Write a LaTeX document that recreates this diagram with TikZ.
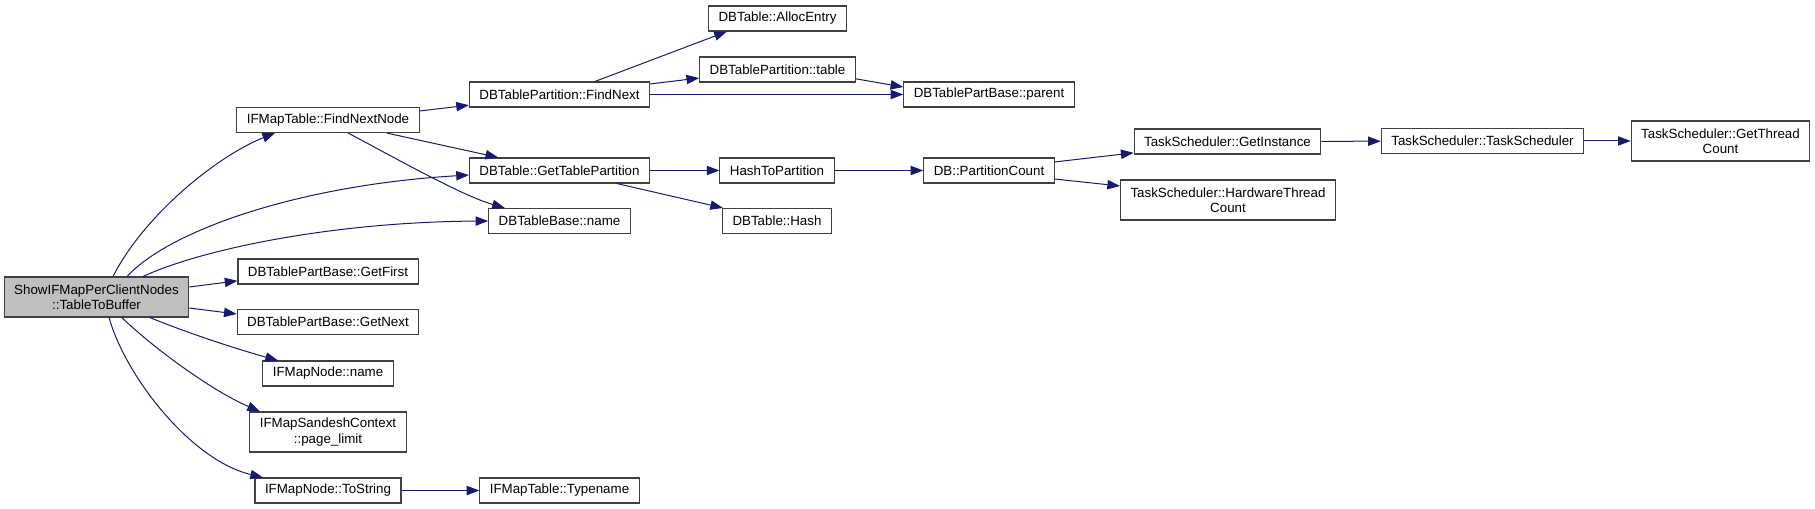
\documentclass[tikz,border=0pt]{standalone}
\usepackage{fontspec}
\setmainfont{Liberation Sans}
\usetikzlibrary{arrows.meta}
\definecolor{edgeblue}{HTML}{191970}
\definecolor{boxgrey}{HTML}{404040}
\definecolor{rootgrey}{HTML}{BFBFBF}
\tikzset{
    fn/.style={draw=boxgrey, line width=0.8pt, fill=white, align=center,
        font=\fontsize{10}{11.5}\selectfont, inner xsep=7.5pt, inner ysep=2pt,
        minimum height=18.75pt},
    fntwo/.style={fn, minimum height=30pt},
    call/.style={draw=edgeblue, line width=0.75pt,
        -{Triangle[length=9.5pt,width=7pt]}}
}

\begin{document}
\begin{tikzpicture}[x=0.75pt, y=-0.75pt]
    \useasboundingbox (0,0) rectangle (1815,509);
    \node[fntwo, fill=rootgrey] (TB) at (96.5,297) {ShowIFMapPerClientNodes\\::TableToBuffer};
    \node[fn] (FNN) at (328,120) {IFMapTable::FindNextNode};
    \node[fn] (GF) at (328,271.5) {DBTablePartBase::GetFirst};
    \node[fn] (GN) at (328,322) {DBTablePartBase::GetNext};
    \node[fn] (NN) at (328,373.5) {IFMapNode::name};
    \node[fntwo] (PL) at (328,432) {IFMapSandeshContext\\::page\_limit};
    \node[fn] (TS) at (328,490.5) {IFMapNode::ToString};
    \node[fn] (FN) at (559.5,94.5) {DBTablePartition::FindNext};
    \node[fn] (GTP) at (559.5,170.5) {DBTable::GetTablePartition};
    \node[fn] (BN) at (559.5,221) {DBTableBase::name};
    \node[fn] (TN) at (559.5,490.5) {IFMapTable::Typename};
    \node[fn] (AE) at (777.5,18.5) {DBTable::AllocEntry};
    \node[fn] (PT) at (777.5,69.5) {DBTablePartition::table};
    \node[fn] (HP) at (777,170.5) {HashToPartition};
    \node[fn] (HS) at (777,221) {DBTable::Hash};
    \node[fn] (PA) at (989,94.5) {DBTablePartBase::parent};
    \node[fn] (PC) at (989,170.5) {DB::PartitionCount};
    \node[fn] (GI) at (1227.5,141.5) {TaskScheduler::GetInstance};
    \node[fntwo] (HTC) at (1228,200) {TaskScheduler::HardwareThread\\Count};
    \node[fn] (TSC) at (1482.5,141) {TaskScheduler::TaskScheduler};
    \node[fntwo] (GTC) at (1720.5,141) {TaskScheduler::GetThread\\Count};

    \draw[call] ([xshift=12.4pt]TB.north) .. controls (143,217) and (215,157) .. ([xshift=-39.75pt]FNN.south);
    \draw[call] ([xshift=22.9pt]TB.north) .. controls (170,230) and (300,185) .. ([yshift=-3.4pt]GTP.west);
    \draw[call] ([xshift=34.9pt]TB.north) .. controls (200,250) and (330,222) .. (BN.west);
    \draw[call] ([yshift=7.5pt]TB.east) -- ([yshift=-7pt]GF.west);
    \draw[call] ([yshift=-8.25pt]TB.east) -- ([yshift=6pt]GN.west);
    \draw[call] ([xshift=40pt]TB.south) .. controls (190,334) and (240,350) .. ([xshift=-37.5pt]NN.north);
    \draw[call] ([xshift=19pt]TB.south) .. controls (150,345) and (210,390) .. ([xshift=-51pt]PL.north);
    \draw[call] ([xshift=9.4pt]TB.south) .. controls (125,375) and (190,460) .. ([xshift=-48.75pt]TS.north);
    \draw[call] ([yshift=6.75pt]FNN.east) -- ([yshift=-8pt]FN.west);
    \draw[call] ([xshift=44pt]FNN.south) -- ([xshift=-46pt]GTP.north);
    \draw[call] ([xshift=15pt]FNN.south) .. controls (390,155) and (460,195) .. ([xshift=-41pt]BN.north);
    \draw[call] (TS) -- (TN);
    \draw[call] ([xshift=26.6pt]FN.north) -- ([xshift=-38pt]AE.south);
    \draw[call] ([yshift=7.9pt]FN.east) -- ([yshift=-6.4pt]PT.west);
    \draw[call] (FN) -- (PA);
    \draw[call] ([yshift=-7pt]PT.east) -- ([yshift=5.6pt]PA.west);
    \draw[call] (GTP) -- (HP);
    \draw[call] ([xshift=43pt]GTP.south) -- ([xshift=-40.5pt]HS.north);
    \draw[call] (HP) -- (PC);
    \draw[call] ([yshift=6.4pt]PC.east) -- ([yshift=-8.5pt]GI.west);
    \draw[call] ([yshift=-6.4pt]PC.east) -- ([yshift=10.5pt]HTC.west);
    \draw[call] (GI) -- (TSC);
    \draw[call] (TSC) -- (GTC);
\end{tikzpicture}
\end{document}
